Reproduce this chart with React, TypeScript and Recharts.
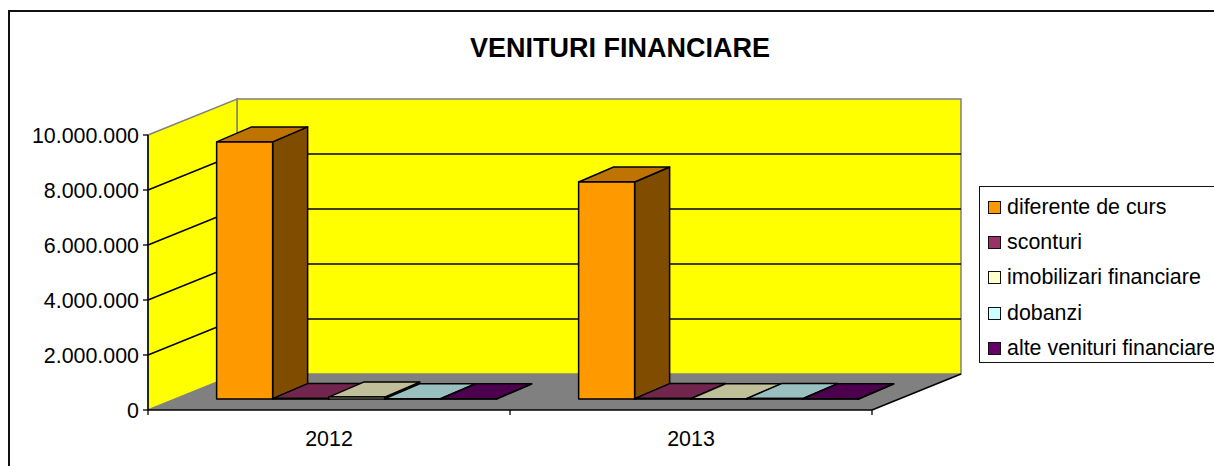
import { Bar, BarChart, Legend, XAxis, YAxis, usePlotArea } from "recharts";

const categories = ["2012", "2013"];
const diferenteDeCurs = [9350000, 7890000];
const sconturi = [15000, 15000];
const imobilizariFinanciare = [70000, 10000];
const dobanzi = [10000, 15000];
const alteVenituri = [10000, 10000];
const yTicks = [0, 2000000, 4000000, 6000000, 8000000, 10000000];
const yMax = 10000000;

const seriesList = [
    { key: "diferente", name: "diferente de curs", fill: "#FF9900", values: diferenteDeCurs },
    { key: "sconturi", name: "sconturi", fill: "#993366", values: sconturi },
    { key: "imobilizari", name: "imobilizari financiare", fill: "#FFFFCC", values: imobilizariFinanciare },
    { key: "dobanzi", name: "dobanzi", fill: "#CCFFFF", values: dobanzi },
    { key: "alte", name: "alte venituri financiare", fill: "#660066", values: alteVenituri },
];

const data = categories.map((year, i) => {
    const row: any = { year };
    seriesList.forEach((s) => {
        row[s.key] = s.values[i];
    });
    return row;
});

const FONT = '"Liberation Sans", Arial, sans-serif';

// oblique offset of the back wall, and of the bars inside the floor
const WALL_DX = 89;
const WALL_DY = -36;
const BAR_DX = 27;
const BAR_DY = -11;
const DEPTH_DX = 35;
const DEPTH_DY = -15;

function shade(hex: string, k: number) {
    const n = parseInt(hex.slice(1), 16);
    const r = Math.round(((n >> 16) & 255) * k);
    const g = Math.round(((n >> 8) & 255) * k);
    const b = Math.round((n & 255) * k);
    return `rgb(${r},${g},${b})`;
}

function pts(list: number[][]) {
    return list.map((p) => p.join(",")).join(" ");
}

function Bar3D(props: any) {
    const { x, y, width, height, fill } = props;
    const l = x + BAR_DX;
    const r = l + width;
    const t = y + BAR_DY;
    const b = t + height;
    return (
        <g stroke="#000" strokeWidth={1.5} strokeLinejoin="round">
            <polygon points={pts([[r, t], [r + DEPTH_DX, t + DEPTH_DY], [r + DEPTH_DX, b + DEPTH_DY], [r, b]])} fill={shade(fill, 0.5)} />
            <polygon points={pts([[l, t], [l + DEPTH_DX, t + DEPTH_DY], [r + DEPTH_DX, t + DEPTH_DY], [r, t]])} fill={shade(fill, 0.75)} />
            <rect x={l} y={t} width={width} height={height} fill={fill} />
        </g>
    );
}

function Walls() {
    const area = usePlotArea();
    if (!area) return null;
    const { x, y, width, height } = area;
    const right = x + width;
    const bottom = y + height;
    const gridTicks = yTicks.filter((v) => v > 0 && v < yMax);
    const band = width / categories.length;
    return (
        <g>
            <polygon
                points={pts([[x + WALL_DX, y + WALL_DY], [right + WALL_DX, y + WALL_DY], [right + WALL_DX, bottom + WALL_DY], [x + WALL_DX, bottom + WALL_DY]])}
                fill="#FFFF00"
                stroke="#808080"
                strokeWidth={1.5}
            />
            <polygon
                points={pts([[x, y], [x + WALL_DX, y + WALL_DY], [x + WALL_DX, bottom + WALL_DY], [x, bottom]])}
                fill="#FFFF00"
                stroke="#808080"
                strokeWidth={1.5}
            />
            <polygon
                points={pts([[x, bottom], [right, bottom], [right + WALL_DX, bottom + WALL_DY], [x + WALL_DX, bottom + WALL_DY]])}
                fill="#808080"
            />
            <line x1={right} y1={bottom} x2={right + WALL_DX} y2={bottom + WALL_DY} stroke="#000" strokeWidth={1.5} />
            {gridTicks.map((v) => {
                const gy = bottom - (v / yMax) * height;
                return (
                    <g key={v} stroke="#000" strokeWidth={1.5}>
                        <line x1={x} y1={gy} x2={x + WALL_DX} y2={gy + WALL_DY} />
                        <line x1={x + WALL_DX} y1={gy + WALL_DY} x2={right + WALL_DX} y2={gy + WALL_DY} />
                    </g>
                );
            })}
            {[0, 1, 2].map((i) => (
                <line key={i} x1={x + i * band} y1={bottom} x2={x + i * band} y2={bottom + 5} stroke="#000" strokeWidth={1.3} />
            ))}
        </g>
    );
}

function LegendBox({ payload }: any) {
    return (
        <div
            style={{
                position: "absolute",
                left: 979,
                top: 186,
                width: 235,
                height: 177,
                boxSizing: "border-box",
                borderLeft: "1.5px solid #111",
                borderTop: "1.5px solid #111",
                borderBottom: "1.5px solid #111",
                background: "#fff",
                fontFamily: FONT,
                fontSize: 21.4,
                color: "#000",
                whiteSpace: "nowrap",
            }}
        >
            {(payload || []).map((item: any, i: number) => (
                <div key={item.value} style={{ position: "absolute", left: 0, top: 7.5 + i * 35.4, height: 24, lineHeight: "24px" }}>
                    <span
                        style={{
                            position: "absolute",
                            left: 8,
                            top: 6,
                            width: 13,
                            height: 13,
                            boxSizing: "border-box",
                            border: "1.5px solid #111",
                            background: item.color,
                        }}
                    />
                    <span style={{ position: "absolute", left: 27, top: 0 }}>{item.value}</span>
                </div>
            ))}
        </div>
    );
}

const formatTick = (v: number) => String(v).replace(/\B(?=(\d{3})+$)/g, ".");

export default function App() {
    return (
        <div style={{ position: "absolute", left: 0, top: 0, width: 1214, height: 466, overflow: "hidden", background: "#fff" }}>
            <div style={{ position: "absolute", left: 8, top: 10, right: 0, bottom: 0, borderLeft: "2px solid #111", borderTop: "2px solid #111" }} />
            <div
                style={{
                    position: "absolute",
                    left: 420,
                    top: 33,
                    width: 400,
                    textAlign: "center",
                    fontFamily: FONT,
                    fontWeight: "bold",
                    fontSize: 27,
                    lineHeight: "30px",
                    color: "#000",
                    whiteSpace: "nowrap",
                }}
            >
                VENITURI FINANCIARE
            </div>
            <BarChart
                width={1214}
                height={466}
                data={data}
                margin={{ top: 135, right: 342, bottom: 16, left: 8 }}
                barCategoryGap="11.5%"
                barGap={0}
                style={{ position: "absolute", left: 0, top: 0 }}
            >
                <Walls />
                <XAxis
                    dataKey="year"
                    height={40}
                    tickLine={false}
                    tickMargin={15}
                    axisLine={{ stroke: "#000", strokeWidth: 1.5 }}
                    tick={{ fill: "#000", fontSize: 21.4, fontFamily: FONT }}
                />
                <YAxis
                    width={140}
                    domain={[0, yMax]}
                    ticks={yTicks}
                    interval={0}
                    tickFormatter={formatTick}
                    tickSize={5}
                    tickMargin={4}
                    tickLine={{ stroke: "#000", strokeWidth: 1.3 }}
                    axisLine={{ stroke: "#000", strokeWidth: 1.5 }}
                    tick={{ fill: "#000", fontSize: 21.4, fontFamily: FONT }}
                />
                <Legend itemSorter={null} content={LegendBox} wrapperStyle={{ position: "absolute", left: 0, top: 0, width: 0, height: 0 }} />
                {seriesList.map((s) => (
                    <Bar key={s.key} dataKey={s.key} name={s.name} fill={s.fill} shape={Bar3D} isAnimationActive={false} />
                ))}
            </BarChart>
        </div>
    );
}
